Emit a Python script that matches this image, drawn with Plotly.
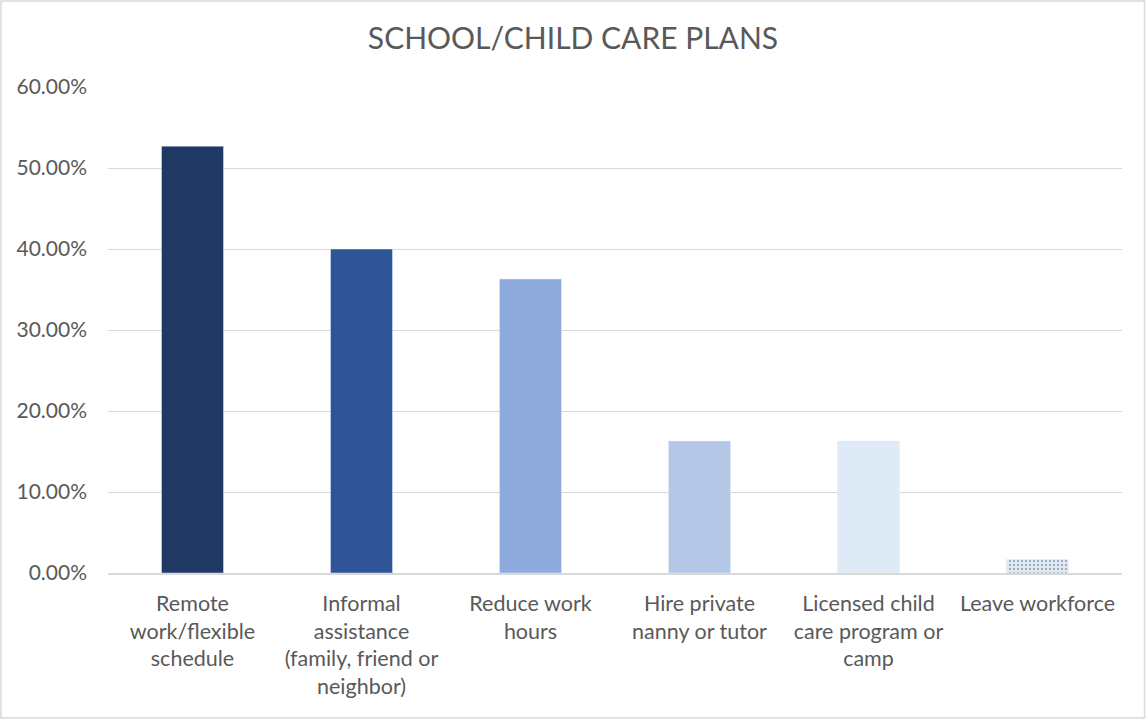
import plotly.graph_objects as go

# Chart data
categories = ['Remote<br>work/flexible<br>schedule',
              'Informal<br>assistance<br>(family, friend or<br>neighbor)',
              'Reduce work<br>hours',
              'Hire private<br>nanny or tutor',
              'Licensed child<br>care program or<br>camp',
              'Leave workforce']
shares = [52.7, 40.0, 36.3, 16.3, 16.3, 1.7]
bar_colors = ['#203864', '#2F5597', '#8FAADC', '#B4C7E7', '#DEEAF6', '#DEEAF6']
tick_vals = [0, 10, 20, 30, 40, 50, 60]
tick_text = ['0.00%', '10.00%', '20.00%', '30.00%', '40.00%', '50.00%', '60.00%']

W, H = 1146, 720
L, R, T, B = 108, 24, 87, 147

fig = go.Figure(go.Bar(
    x=list(range(len(categories))), y=shares,
    marker=dict(color=bar_colors,
                pattern=dict(shape=['', '', '', '', '', '.'],
                             fgcolor='#9DB5DE', size=4, solidity=0.2)),
    width=0.367, hoverinfo='y'))

# light grey frame around the whole chart
pw, ph = W - L - R, H - T - B
fig.add_shape(type='rect', xref='paper', yref='paper',
              x0=-(L - 1) / pw, x1=1 + (R - 1.5) / pw,
              y0=-(B - 2) / ph, y1=1 + (T - 1) / ph,
              line=dict(color='#D9D9D9', width=1.5))

fig.update_layout(
    width=W, height=H, margin=dict(l=L, r=R, t=T, b=B),
    paper_bgcolor='white', plot_bgcolor='white',
    font=dict(family='Lato, sans-serif', size=21, color='#595959'),
    title=dict(text='SCHOOL/CHILD CARE PLANS', x=0.5, xanchor='center',
               y=1 - 38 / H, yanchor='middle', font=dict(size=30, color='#595959')),
    xaxis=dict(tickmode='array', tickvals=list(range(len(categories))),
               ticktext=categories, range=[-0.5, len(categories) - 0.5],
               showline=True, linecolor='#D9D9D9', linewidth=1.5,
               showgrid=False, ticks='', tickangle=0,
               tickfont=dict(size=21.5), ticklabelstandoff=10),
    yaxis=dict(range=[0, 60], tickvals=tick_vals, ticktext=tick_text,
               showgrid=True, gridcolor='#D9D9D9', gridwidth=1.2,
               zeroline=False, ticks='', ticklabelstandoff=20),
    showlegend=False,
)

fig.write_html('out.html', config={'displayModeBar': False},
               post_script="document.body.style.margin='0';")
